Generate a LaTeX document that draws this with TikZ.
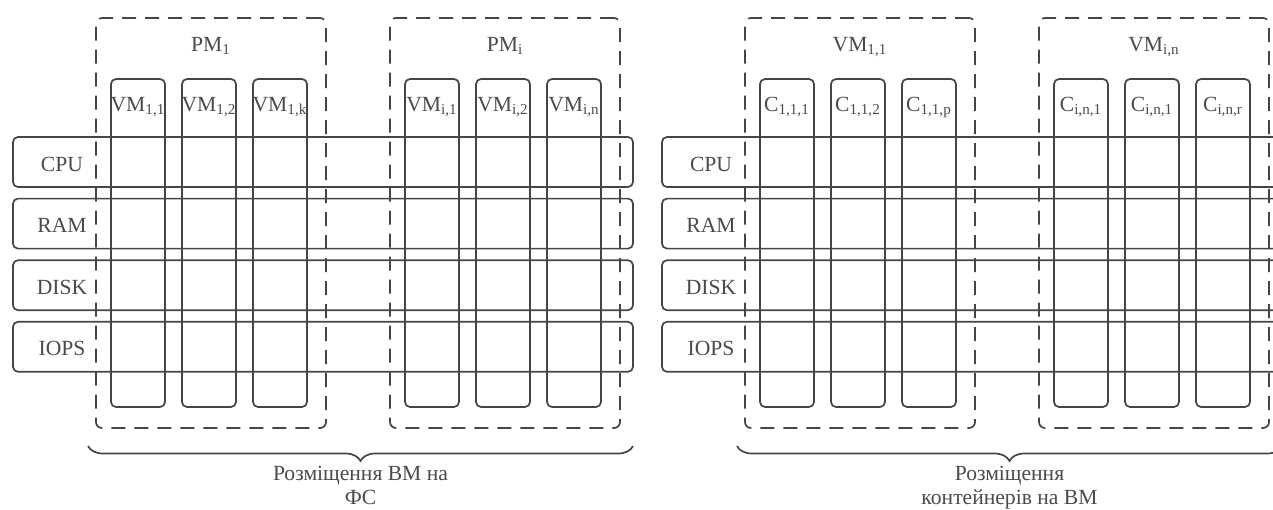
\documentclass[tikz,border=0pt]{standalone}
\usepackage{fontspec}
\setmainfont{Liberation Serif}
\usetikzlibrary{decorations.pathreplacing}
\definecolor{ln}{HTML}{454545}
\definecolor{tx}{HTML}{4A4A4A}
\newcommand{\VMs}[1]{VM\textsubscript{#1}}
\newcommand{\PMs}[1]{PM\textsubscript{#1}}
\newcommand{\Cs}[1]{C\textsubscript{#1}}

\begin{document}
\begin{tikzpicture}[x=0.5pt, y=-0.5pt,
    every node/.style={text=tx, font=\fontsize{10.8}{11.8}\selectfont, inner sep=0pt},
    res/.style={draw=ln, line width=0.85pt, rounded corners=2.5pt, minimum width=310pt, minimum height=25pt},
    unit/.style={draw=ln, line width=0.85pt, rounded corners=2.5pt, minimum width=27pt, minimum height=164pt},
    host/.style={draw=ln, line width=0.85pt, dash pattern=on 7pt off 4.5pt, rounded corners=3pt, minimum width=115pt, minimum height=205pt},
    grp/.style={draw=ln, line width=0.85pt, decorate, decoration={brace, mirror, amplitude=7.5pt}}]
  \useasboundingbox (0,0) rectangle (1273,509);
  \clip (0,0) rectangle (1273,509);
  % resource rows
  \foreach \r [count=\i from 0] in {CPU,RAM,DISK,IOPS} {
    \node[res] (rl\i) at (323,{162+61.6*\i}) {};
    \node[res] (rr\i) at (972,{162+61.6*\i}) {};
    \node[anchor=base] (rl\i-t) at (62,{171+61.6*\i}) {\r};
    \node[anchor=base] (rr\i-t) at (711,{171+61.6*\i}) {\r};
  }
  % physical machines
  \node[host] (pm1) at (211,223) {};
  \node[host] (pmi) at (505,223) {};
  \node[anchor=base] (pm1-t) at (211,51) {\PMs{1}};
  \node[anchor=base] (pmi-t) at (505,51) {\PMs{i}};
  \foreach \x/\s [count=\k] in {138/{1,1},209/{1,2},280/{1,k},432/{i,1},503/{i,2},574/{i,n}} {
    \node[unit] (vm\k) at (\x,243) {};
    \node[anchor=base] (vm\k-t) at (\x,111) {\VMs{\s}};
  }
  % virtual machines
  \node[host] (vm11) at (860,223) {};
  \node[host] (vmin) at (1154,223) {};
  \node[anchor=base] (vm11-t) at (860,51) {\VMs{1,1}};
  \node[anchor=base] (vmin-t) at (1154,51) {\VMs{i,n}};
  \foreach \x/\s [count=\k] in {787/{1,1,1},858/{1,1,2},929/{1,1,p},1081/{i,n,1},1152/{i,n,1},1223/{i,n,r}} {
    \node[unit] (c\k) at (\x,243) {};
    \node[anchor=base] (c\k-t) at (\x,111) {\Cs{\s}};
  }
  % braces
  \coordinate (bl1) at (88,446);
  \coordinate (bl2) at (633,446);
  \coordinate (br1) at (737,446);
  \coordinate (br2) at (1282,446);
  \draw[grp] (bl1) -- (bl2);
  \draw[grp] (br1) -- (br2);
  \node[anchor=north, align=center] (capl) at (360.5,466) {Розміщення ВМ на\\ФС};
  \node[anchor=north, align=center] (capr) at (1009.5,466) {Розміщення\\контейнерів на ВМ};
\end{tikzpicture}
\end{document}
